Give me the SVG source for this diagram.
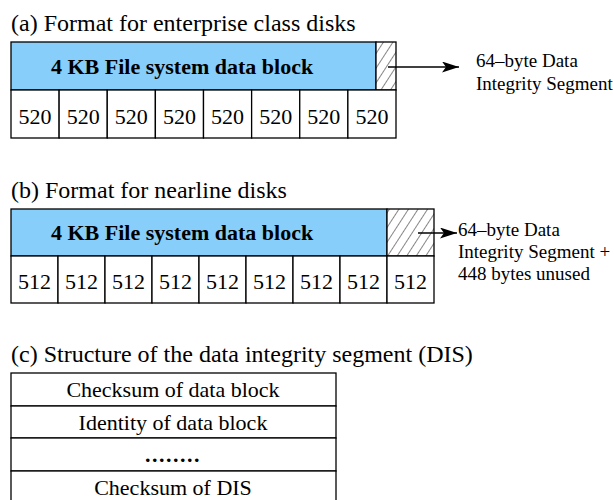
<svg xmlns="http://www.w3.org/2000/svg" width="614" height="500" viewBox="0 0 614 500" font-family="Liberation Serif, serif">
<style>
text{font-family:'Liberation Serif',serif;fill:#000}
.title{font-size:24px}
.bold{font-size:22px;font-weight:bold}
.num{font-size:22px;text-anchor:middle}
.lbl{font-size:19px}
.row{font-size:22px;text-anchor:middle}
.blue{fill:#87CEFA;stroke:#000;stroke-width:1.3}
.cell{fill:#fff;stroke:#000;stroke-width:1.3}
.hatch{fill:url(#hatch);stroke:#000;stroke-width:1.3}
.conn{stroke:#000;stroke-width:1.3;fill:none;marker-end:url(#arrow)}
</style>
<defs>
<pattern id="hatch" patternUnits="userSpaceOnUse" width="8" height="8" patternTransform="rotate(33)">
<rect width="8" height="8" fill="#fff"/>
<line x1="0" y1="0" x2="0" y2="8" stroke="#222" stroke-width="1.1"/>
</pattern>
<marker id="arrow" markerWidth="17" markerHeight="11" refX="17" refY="5.5" orient="auto" markerUnits="userSpaceOnUse">
<path d="M0,0 L17,5.5 L0,11 L4,5.5 Z" fill="#000"/>
</marker>
</defs>
<g id="section-a">
<text class="title" x="11" y="31">(a) Format for enterprise class disks</text>
<g id="a-block">
<rect class="blue" x="11" y="42" width="365" height="48"/>
<text class="bold" x="51" y="74">4 KB File system data block</text>
</g>
<g id="a-dis">
<rect class="hatch" x="376" y="42" width="20" height="48"/>
</g>
<g id="a-sectors">
<rect class="cell" x="11" y="90" width="48.125" height="48"/>
<rect class="cell" x="59.125" y="90" width="48.125" height="48"/>
<rect class="cell" x="107.25" y="90" width="48.125" height="48"/>
<rect class="cell" x="155.375" y="90" width="48.125" height="48"/>
<rect class="cell" x="203.5" y="90" width="48.125" height="48"/>
<rect class="cell" x="251.625" y="90" width="48.125" height="48"/>
<rect class="cell" x="299.75" y="90" width="48.125" height="48"/>
<rect class="cell" x="347.875" y="90" width="48.125" height="48"/>
<text class="num" x="35.1" y="124">520</text>
<text class="num" x="83.2" y="124">520</text>
<text class="num" x="131.3" y="124">520</text>
<text class="num" x="179.4" y="124">520</text>
<text class="num" x="227.6" y="124">520</text>
<text class="num" x="275.7" y="124">520</text>
<text class="num" x="323.8" y="124">520</text>
<text class="num" x="371.9" y="124">520</text>
</g>
<g id="a-label">
<text class="lbl" x="476" y="67">64–byte Data</text>
<text class="lbl" x="476" y="90">Integrity Segment</text>
</g>
</g>
<g id="section-b">
<text class="title" x="11" y="198">(b) Format for nearline disks</text>
<g id="b-block">
<rect class="blue" x="11" y="209" width="376" height="47"/>
<text class="bold" x="51" y="240">4 KB File system data block</text>
</g>
<g id="b-dis">
<rect class="hatch" x="387" y="209" width="47" height="47"/>
</g>
<g id="b-sectors">
<rect class="cell" x="11" y="256" width="47" height="47"/>
<rect class="cell" x="58" y="256" width="47" height="47"/>
<rect class="cell" x="105" y="256" width="47" height="47"/>
<rect class="cell" x="152" y="256" width="47" height="47"/>
<rect class="cell" x="199" y="256" width="47" height="47"/>
<rect class="cell" x="246" y="256" width="47" height="47"/>
<rect class="cell" x="293" y="256" width="47" height="47"/>
<rect class="cell" x="340" y="256" width="47" height="47"/>
<rect class="cell" x="387" y="256" width="47" height="47"/>
<text class="num" x="34.5" y="289">512</text>
<text class="num" x="81.5" y="289">512</text>
<text class="num" x="128.5" y="289">512</text>
<text class="num" x="175.5" y="289">512</text>
<text class="num" x="222.5" y="289">512</text>
<text class="num" x="269.5" y="289">512</text>
<text class="num" x="316.5" y="289">512</text>
<text class="num" x="363.5" y="289">512</text>
<text class="num" x="410.5" y="289">512</text>
</g>
<g id="b-label">
<text class="lbl" x="458" y="236">64–byte Data</text>
<text class="lbl" x="458" y="258">Integrity Segment +</text>
<text class="lbl" x="458" y="280">448 bytes unused</text>
</g>
</g>
<g id="section-c">
<text class="title" x="11" y="362">(c) Structure of the data integrity segment (DIS)</text>
<g id="c-row1">
<rect class="cell" x="11" y="373" width="325" height="33"/>
<text class="row" x="173" y="397">Checksum of data block</text>
</g>
<g id="c-row2">
<rect class="cell" x="11" y="406" width="325" height="32"/>
<text class="row" x="173" y="430">Identity of data block</text>
</g>
<g id="c-row3">
<rect class="cell" x="11" y="438" width="325" height="33"/>
<text class="row" x="173" y="462" style="font-weight:bold;letter-spacing:1.5px">........</text>
</g>
<g id="c-row4">
<rect class="cell" x="11" y="471" width="325" height="33"/>
<text class="row" x="173" y="495">Checksum of DIS</text>
</g>
</g>
<g id="connectors">
<line class="conn" x1="388" y1="67" x2="459" y2="67"/>
<line class="conn" x1="418" y1="233" x2="457" y2="233"/>
</g>
</svg>
